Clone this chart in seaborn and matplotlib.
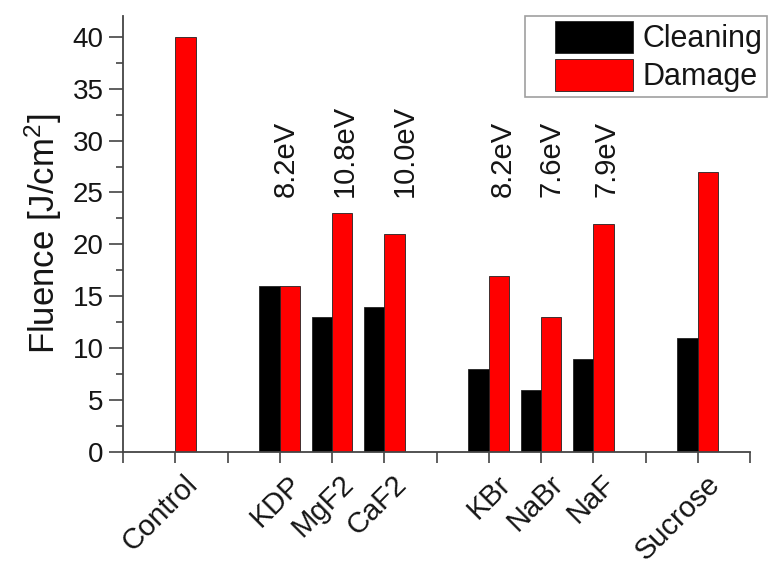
import numpy as np
import pandas as pd
import matplotlib
matplotlib.use("Agg")
import matplotlib.pyplot as plt
import matplotlib.transforms as mtransforms
from matplotlib.patches import Patch, Rectangle
from matplotlib.legend_handler import HandlerPatch
from matplotlib.ticker import MultipleLocator
import seaborn as sns

# values
samples = ["Control", "KDP", "MgF2", "CaF2", "KBr", "NaBr", "NaF", "Sucrose"]
cleaning = [np.nan, 16, 13, 14, 8, 6, 9, 11]
damage = [40, 16, 23, 21, 17, 13, 22, 27]
band_gap = ["", "8.2eV", "10.8eV", "10.0eV", "8.2eV", "7.6eV", "7.9eV", ""]

# layout: slot of each sample on the x axis and shift of the band-gap text
slots = [1, 3, 4, 5, 7, 8, 9, 11]
text_dx = [0, 0.11, 0.25, 0.40, 0.26, 0.21, 0.26, 0]

colors = {"Cleaning": "#000000", "Damage": "#ff0000"}

df = pd.DataFrame({
    "slot": slots * 2,
    "kind": ["Cleaning"] * len(samples) + ["Damage"] * len(samples),
    "fluence": cleaning + damage,
})

sns.set_theme(style="ticks")
plt.rcParams["font.family"] = ["Liberation Sans", "DejaVu Sans"]
plt.rcParams["mathtext.default"] = "regular"
plt.rcParams["text.color"] = "#151515"
plt.rcParams["xtick.labelcolor"] = "#151515"
plt.rcParams["ytick.labelcolor"] = "#151515"
plt.rcParams["axes.labelcolor"] = "#151515"

fig = plt.figure(figsize=(7.69, 5.70), dpi=100)
ax = fig.add_axes([123 / 769, 118 / 570, 627 / 769, 436 / 570])

sns.barplot(data=df, x="slot", y="fluence", hue="kind", hue_order=["Cleaning", "Damage"],
            native_scale=True, palette=colors, saturation=1, width=0.78, errorbar=None,
            edgecolor="#222222", linewidth=0.6, legend=False, ax=ax)

# band-gap annotations
for s, dx, t in zip(slots, text_dx, band_gap):
    if t:
        ax.text(s + dx, 24.6, t, rotation=90, ha="center", va="bottom", fontsize=21)

ax.set_xlim(0, 12)
ax.set_ylim(0, 42)
ax.yaxis.set_major_locator(MultipleLocator(5))
ax.yaxis.set_minor_locator(MultipleLocator(2.5))
ax.tick_params(axis="y", which="major", length=10, width=1.2, labelsize=20,
               color="#444444", pad=4)
ax.tick_params(axis="y", which="minor", length=5, width=1.2, color="#444444")
ax.tick_params(axis="x", which="major", length=8, width=1.2, color="#444444", pad=2)

ax.set_xticks(range(13))
labels = [""] * 13
for s, name in zip(slots, samples):
    labels[s] = name
ax.set_xticklabels(labels, rotation=45, ha="right", va="top",
                   rotation_mode="anchor", fontsize=21)
# nudge the slanted names right, like the original
shift = mtransforms.ScaledTranslation(8 / 100, -4 / 100, fig.dpi_scale_trans)
for lab in ax.get_xticklabels():
    lab.set_transform(lab.get_transform() + shift)

ax.set_xlabel("")
ax.set_ylabel("Fluence [J/cm$^2$]", fontsize=25, labelpad=6)

sns.despine(ax=ax)
for side in ("left", "bottom"):
    ax.spines[side].set_linewidth(1.3)
    ax.spines[side].set_color("#444444")


def wide_patch(legend, orig_handle, xdescent, ydescent, width, height, fontsize):
    lead = width * 0.25
    return Rectangle((-xdescent + lead, -ydescent), width - lead, height)


handles = [Patch(facecolor=colors[k], edgecolor="#222222", linewidth=0.6) for k in colors]
leg = ax.legend(handles, list(colors), loc="upper right",
                bbox_to_anchor=(767 / 769, 1 - 16 / 570), bbox_transform=fig.transFigure,
                borderaxespad=0, fontsize=22, frameon=True, fancybox=False,
                handlelength=3.4, handleheight=1.25, labelspacing=0.15,
                handletextpad=0.3, borderpad=0.15,
                handler_map={Patch: HandlerPatch(patch_func=wide_patch)})
leg.get_frame().set_edgecolor("#888888")
leg.get_frame().set_linewidth(1.2)

fig.savefig("out.png", dpi=100)
